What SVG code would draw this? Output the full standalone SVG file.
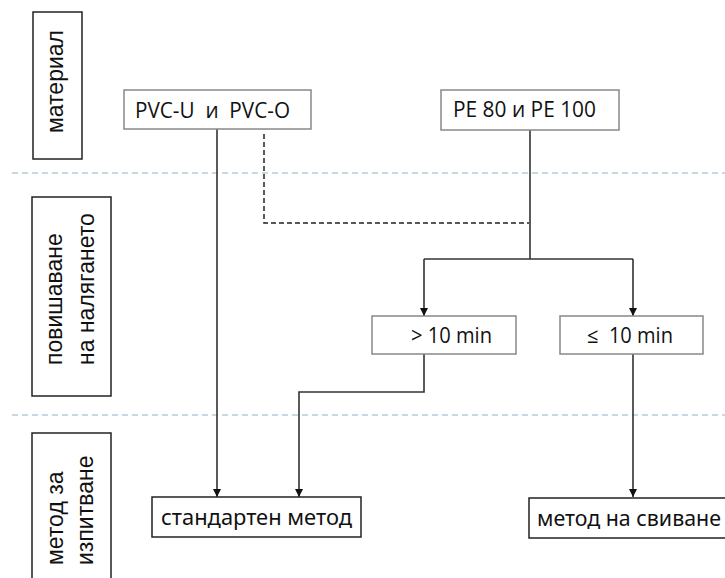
<svg xmlns="http://www.w3.org/2000/svg" width="725" height="578" viewBox="0 0 725 578">
<style>
.sep{stroke:#8fb2c2;stroke-width:1;stroke-dasharray:6 4;fill:none}
.lbl{fill:#fff;stroke:#222;stroke-width:1.5}
.lt{font-family:"Liberation Sans",Arial,sans-serif;font-size:23px;fill:#111}
.gb{fill:#fff;stroke:#888;stroke-width:1.5}
.bb{fill:#fff;stroke:#222;stroke-width:1.5}
.nt{font-family:"Open Sans","Noto Sans",sans-serif;font-size:21px;fill:#111}
.bt{font-family:"Noto Sans","DejaVu Sans",sans-serif;font-size:22px;fill:#111}
.c{stroke:#333;stroke-width:1.6;fill:none}
.cd{stroke:#222;stroke-width:1.5;fill:none;stroke-dasharray:5 3}
</style>
<defs>
<marker id="ah" viewBox="0 0 10 10" refX="10" refY="5" markerWidth="8" markerHeight="8" markerUnits="userSpaceOnUse" orient="auto">
<path d="M0,0 L10,5 L0,10 z" fill="#111"/>
</marker>
</defs>
<rect width="725" height="578" fill="#fff"/>
<g id="separators">
<line class="sep" x1="12" y1="173" x2="725" y2="173"/>
<line class="sep" x1="12" y1="415" x2="725" y2="415"/>
</g>
<g id="lbl-material">
<rect class="lbl" x="33" y="12" width="49" height="147"/>
<text class="lt" transform="translate(63,133) rotate(-90)">материал</text>
</g>
<g id="lbl-pressure">
<rect class="lbl" x="32" y="197" width="79" height="199"/>
<text class="lt" transform="translate(62,365) rotate(-90)">повишаване</text>
<text class="lt" transform="translate(94,365) rotate(-90)">на налягането</text>
</g>
<g id="lbl-method">
<rect class="lbl" x="32" y="433" width="79" height="150"/>
<text class="lt" transform="translate(63,565) rotate(-90)">метод за</text>
<text class="lt" transform="translate(93,565) rotate(-90)">изпитване</text>
</g>
<g id="connectors">
<line class="c" x1="217" y1="129" x2="217" y2="497" marker-end="url(#ah)"/>
<polyline class="cd" points="264,134 264,223 529,223"/>
<polyline class="c" points="530,130 530,259"/>
<polyline class="c" points="424,259 633,259"/>
<line class="c" x1="424" y1="259" x2="424" y2="316" marker-end="url(#ah)"/>
<line class="c" x1="633" y1="259" x2="633" y2="316" marker-end="url(#ah)"/>
<polyline class="c" points="424,354 424,392 299,392 299,497" marker-end="url(#ah)"/>
<line class="c" x1="633" y1="354" x2="633" y2="497" marker-end="url(#ah)"/>
</g>
<g id="n-pvc">
<rect class="gb" x="124" y="90" width="187" height="39"/>
<text class="nt" x="135" y="118" textLength="155" lengthAdjust="spacingAndGlyphs" xml:space="preserve">PVC-U  и  PVC-O</text>
</g>
<g id="n-pe">
<rect class="gb" x="441" y="90" width="178" height="40"/>
<text class="nt" x="453" y="117" textLength="143" lengthAdjust="spacingAndGlyphs">PE 80 и PE 100</text>
</g>
<g id="n-gt10">
<rect class="gb" x="372" y="316" width="144" height="38"/>
<text class="nt" x="411" y="343" textLength="81" lengthAdjust="spacingAndGlyphs">&gt; 10 min</text>
</g>
<g id="n-le10">
<rect class="gb" x="560" y="316" width="143" height="38"/>
<text class="nt" x="587" y="343" textLength="86" lengthAdjust="spacingAndGlyphs" xml:space="preserve">≤  10 min</text>
</g>
<g id="n-standard">
<rect class="bb" x="152" y="497" width="209" height="40"/>
<text class="bt" x="161" y="525" textLength="191" lengthAdjust="spacingAndGlyphs">стандартен метод</text>
</g>
<g id="n-svivane">
<rect class="bb" x="529" y="498" width="220" height="40"/>
<text class="bt" x="537" y="526" textLength="184" lengthAdjust="spacingAndGlyphs">метод на свиване</text>
</g>
</svg>
